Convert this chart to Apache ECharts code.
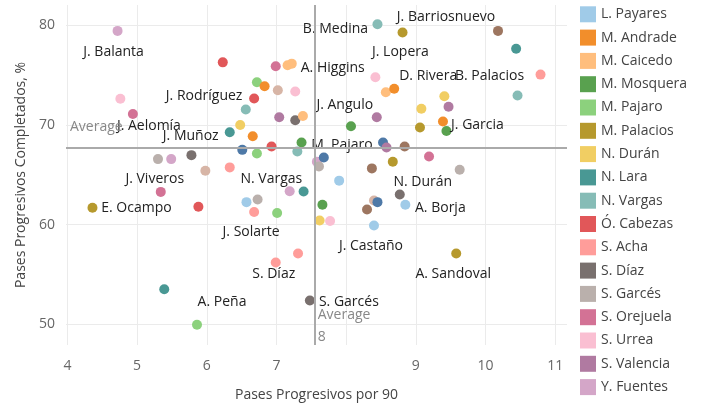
<!DOCTYPE html>
<html>
<head>
<meta charset="utf-8">
<script src="https://cdn.jsdelivr.net/npm/echarts@6/dist/echarts.min.js"></script>
<style>
  html, body { margin: 0; padding: 0; background: #fff; }
  #grafico { width: 707px; height: 407px; }
</style>
</head>
<body>
<div id="grafico"></div>
<script>
// paleta tipo Tableau 20
var paleta = ['#4E79A7', '#A0CBE8', '#F28E2B', '#FFBE7D', '#59A14F', '#8CD17D', '#B6992D', '#F1CE63', '#499894', '#86BCB6',
              '#E15759', '#FF9D9A', '#79706E', '#BAB0AC', '#D37295', '#FABFD2', '#B07AA1', '#D4A6C8', '#9D7660', '#D7B5A6'];

var pases = [
  4.72, 6.23, 6.72, 6.68, 6.56, 4.76, 4.94, 6.48, 6.33, 6.66,
  8.45, 8.81, 6.99, 7.16, 7.22, 8.42, 6.83, 7.02, 7.27, 8.57,
  8.69, 9.41, 9.08, 9.47, 7.04, 7.27, 7.38, 8.44, 8.07, 9.06,
  9.39, 9.44, 10.18, 10.44, 10.79, 10.46, 6.51, 6.72, 5.30, 5.49,
  5.78, 5.98, 6.33, 5.34, 4.36, 5.88, 6.57, 6.73, 6.68, 6.93,
  7.36, 7.30, 7.58, 7.61, 7.68, 8.53, 8.58, 8.84, 9.19, 8.67,
  8.37, 7.90, 7.19, 7.39, 7.01, 7.66, 7.62, 7.77, 8.40, 8.45,
  8.30, 8.77, 8.85, 8.40, 7.31, 6.99, 9.63, 9.58, 5.39, 5.86,
  7.48
];
var completados = [
  79.45, 76.29, 74.29, 72.66, 71.56, 72.63, 71.10, 70.00, 69.27, 68.87,
  80.12, 79.28, 75.89, 75.99, 76.16, 74.79, 73.89, 73.49, 73.36, 73.29,
  73.63, 72.89, 71.63, 71.83, 70.77, 70.47, 70.90, 70.77, 69.87, 69.74,
  70.34, 69.40, 79.45, 77.65, 75.06, 72.96, 67.50, 67.14, 66.57, 66.57,
  66.97, 65.40, 65.74, 63.28, 61.68, 61.78, 62.25, 62.51, 61.25, 67.84,
  68.24, 67.34, 66.30, 65.84, 66.74, 68.24, 67.74, 67.84, 66.84, 66.30,
  65.64, 64.41, 63.35, 63.31, 61.15, 61.98, 60.41, 60.35, 62.41, 62.25,
  61.51, 63.01, 61.98, 59.91, 57.09, 56.19, 65.50, 57.09, 53.50, 49.93,
  52.37
];
var colorIdx = [
  17, 10, 5, 10, 9, 15, 14, 7, 8, 2,
  9, 6, 14, 3, 3, 15, 2, 19, 15, 3,
  2, 7, 7, 16, 16, 12, 3, 16, 4, 6,
  2, 4, 18, 8, 11, 9, 0, 5, 13, 17,
  12, 19, 11, 14, 6, 10, 1, 13, 11, 10,
  4, 9, 17, 13, 0, 0, 16, 18, 14, 6,
  18, 1, 17, 8, 5, 4, 7, 15, 19, 0,
  18, 12, 1, 1, 11, 11, 13, 6, 8, 5,
  12
];
// nombre en la leyenda (solo los visibles)
var nombres = [
  '', '', '', '', '', '', '', '', '', 'M. Andrade',
  '', '', '', 'M. Caicedo', '', '', '', '', 'S. Urrea', '',
  '', '', 'N. Durán', '', '', '', '', '', 'M. Mosquera', 'M. Palacios',
  '', '', '', '', '', '', 'L. Moreno', 'M. Pajaro', '', '',
  '', '', 'S. Acha', '', '', 'Ó. Cabezas', 'L. Payares', '', '', '',
  '', 'N. Vargas', '', '', '', '', 'S. Valencia', '', 'S. Orejuela', '',
  '', '', 'Y. Fuentes', 'N. Lara', '', '', '', '', '', '',
  '', '', '', '', '', '', 'S. Garcés', '', '', '',
  'S. Díaz'
];
// textos sobre el grafico
var etiquetas = [
  'J. Balanta', '', '', 'J. Rodríguez', '', '', 'J. Aelomía', '', 'J. Muñoz', '',
  'B. Medina', '', '', '', 'A. Higgins', 'J. Lopera', '', '', '', '',
  'D. Rivera', '', '', '', '', '', '', 'J. Angulo', '', '',
  '', 'J. Garcia', 'J. Barriosnuevo', '', 'B. Palacios', '', '', 'M. Pajaro', '', '',
  '', '', '', 'J. Viveros', 'E. Ocampo', '', '', '', 'J. Solarte', '',
  '', 'N. Vargas', '', '', '', '', '', '', '', '',
  '', '', '', '', '', '', '', '', '', '',
  '', 'N. Durán', 'A. Borja', 'J. Castaño', '', 'S. Díaz', '', 'A. Sandoval', '', 'A. Peña',
  'S. Garcés'
];
var leyenda = ['L. Moreno', 'L. Payares', 'M. Andrade', 'M. Caicedo', 'M. Mosquera', 'M. Pajaro', 'M. Palacios',
               'N. Durán', 'N. Lara', 'N. Vargas', 'Ó. Cabezas', 'S. Acha', 'S. Díaz', 'S. Garcés',
               'S. Orejuela', 'S. Urrea', 'S. Valencia', 'Y. Fuentes'];
var promPases = 7.55;
var promCompletados = 67.67;
var ticksX = [4, 5, 6, 7, 8, 9, 10, 11];
var etiquetasX = [4, 5, 6, 7, 9, 10, 11];
var ticksY = [50, 60, 70, 80];

// desplazamiento de cada texto respecto a su punto (px)
var desplaza = {
  'J. Balanta': [-4, 21], 'B. Medina': [-42, 5], 'J. Barriosnuevo': [-52, -14], 'J. Lopera': [25, -25],
  'D. Rivera': [34, -13], 'B. Palacios': [-51, 1], 'A. Higgins': [41, 4], 'J. Rodríguez': [-50, -2],
  'J. Angulo': [-32, -12], 'J. Aelomía': [16, 12], 'J. Muñoz': [-39, 4], 'J. Garcia': [31, -6],
  'M. Pajaro': [85, -8], 'J. Viveros': [-6, -13], 'N. Vargas': [-26, 28], 'N. Durán': [23, -13],
  'E. Ocampo': [44, 0], 'A. Borja': [35, 3], 'J. Solarte': [-3, 20], 'J. Castaño': [-3, 21],
  'S. Díaz': [-2, 12], 'A. Sandoval': [-3, 21], 'A. Peña': [25, -23], 'S. Garcés': [39, 2]
};

var fuente = '"Open Sans", "Noto Sans", sans-serif';
var xMin = 3.98, xMax = 11.17, yMin = 47.9, yMax = 82.05;

var chart = echarts.init(document.getElementById('grafico'));

var series = pases.map(function (x, i) {
  var txt = etiquetas[i];
  return {
    name: nombres[i] || ('jugador ' + (i + 1)),
    type: 'scatter',
    symbolSize: 10,
    z: txt ? 3 : 2,
    itemStyle: { color: paleta[colorIdx[i]], opacity: 1 },
    label: txt ? {
      show: true,
      position: 'inside',
      formatter: txt,
      offset: desplaza[txt],
      color: '#222',
      fontSize: 14,
      fontFamily: fuente
    } : { show: false },
    data: [[x, completados[i]]]
  };
});

series.push({
  name: 'promedio',
  type: 'scatter',
  symbolSize: 0,
  z: 1,
  data: [],
  markLine: {
    silent: true,
    symbol: 'none',
    animation: false,
    lineStyle: { color: '#aaa', width: 2, type: 'solid' },
    label: { show: false },
    data: [{ xAxis: promPases }, { yAxis: promCompletados }]
  },
  markPoint: {
    symbol: 'circle',
    symbolSize: 0,
    silent: true,
    label: { show: true, position: 'inside', color: '#888', fontSize: 14, fontFamily: fuente, align: 'left', verticalAlign: 'middle' },
    data: [
      { coord: [xMin, promCompletados], label: { formatter: 'Average', offset: [4, -21] } },
      { coord: [promPases, yMin], label: { formatter: 'Average\n' + Math.round(promPases), lineHeight: 22, offset: [3, -19] } }
    ]
  }
});

var option = {
  animation: false,
  textStyle: { fontFamily: fuente },
  grid: { left: 66, right: 140, top: 5, bottom: 60 },
  legend: {
    data: leyenda,
    orient: 'vertical',
    left: 580,
    top: -17,
    height: 480,
    padding: 0,
    icon: 'rect',
    itemWidth: 16,
    itemHeight: 16,
    itemGap: 7.3,
    selectedMode: false,
    textStyle: { fontSize: 14, color: '#444', fontFamily: fuente }
  },
  xAxis: {
    type: 'value',
    min: xMin,
    max: xMax,
    name: 'Pases Progresivos por 90',
    nameLocation: 'middle',
    nameGap: 43,
    nameTextStyle: { fontSize: 14, color: '#444', fontFamily: fuente },
    axisLine: { show: false },
    axisTick: { show: false, customValues: ticksX },
    axisLabel: { customValues: etiquetasX, color: '#666', fontSize: 14, margin: 14, fontFamily: fuente },
    splitLine: { show: true, lineStyle: { color: '#ebebeb', width: 1 } }
  },
  yAxis: {
    type: 'value',
    min: yMin,
    max: yMax,
    name: 'Pases Progresivos Completados, %',
    nameLocation: 'middle',
    nameGap: 38,
    nameTextStyle: { fontSize: 14, color: '#444', fontFamily: fuente },
    axisLine: { show: false },
    axisTick: { show: false, customValues: ticksY },
    axisLabel: { customValues: ticksY, color: '#666', fontSize: 14, margin: 11, fontFamily: fuente },
    splitLine: { show: true, lineStyle: { color: '#ebebeb', width: 1 } }
  },
  series: series
};

chart.setOption(option);
</script>
</body>
</html>
